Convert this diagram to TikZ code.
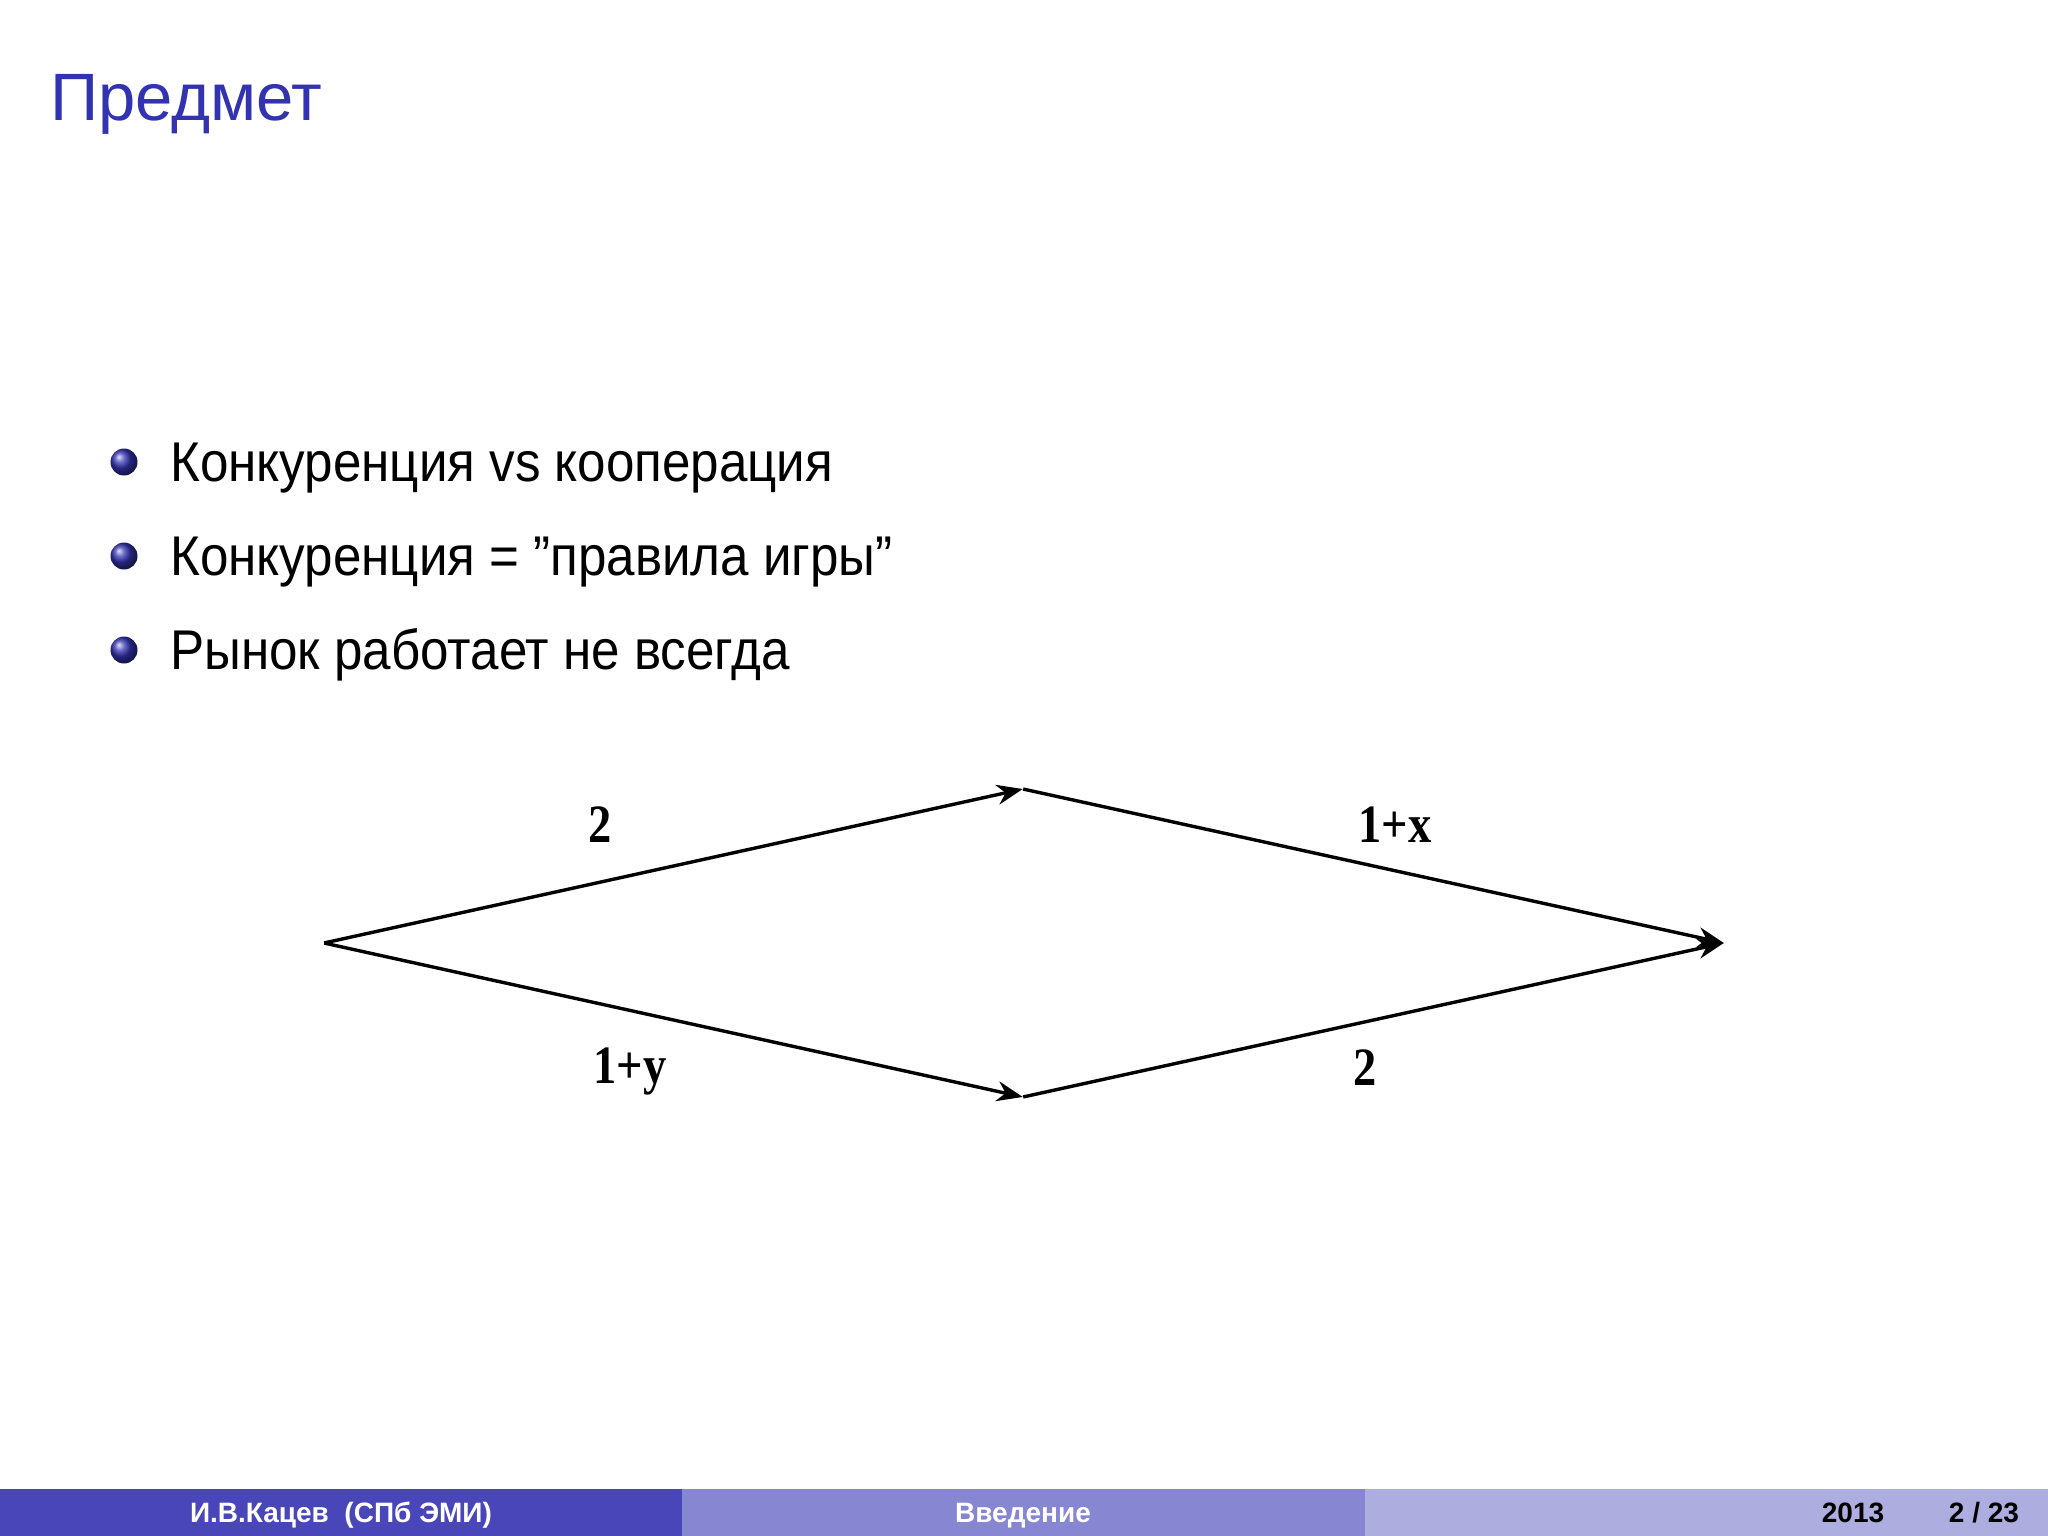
\documentclass[tikz,border=0pt]{standalone}
\usepackage{fontspec}
\setmainfont{Liberation Sans}
\newfontfamily\edgefont[FakeStretch=0.86]{Liberation Serif}
\newfontfamily\itemfont[FakeStretch=0.913]{Liberation Sans}
\usepackage{tikz}
\usetikzlibrary{arrows,arrows.meta,positioning,calc}
\definecolor{structure}{RGB}{51,51,178}
\definecolor{footA}{RGB}{72,70,184}
\definecolor{footB}{RGB}{134,134,210}
\definecolor{footC}{RGB}{173,173,224}
\tikzstyle{vertex} = [inner sep=0pt,minimum size=0pt]
\tikzstyle{flow} = [line width=3.4pt,arrows={-Stealth[length=26pt,width=20pt]}]
\tikzstyle{edgelabel} = [inner sep=0pt,font=\edgefont\bfseries\fontsize{54}{54}\selectfont]
\tikzstyle{bulletball} = [circle,shade,ball color=structure,minimum size=27pt,inner sep=0pt]
\tikzstyle{itemtext} = [anchor=base west,inner sep=0pt,font=\itemfont\fontsize{56}{66}\selectfont]
\tikzstyle{foottext} = [anchor=base,inner sep=0pt,font=\bfseries\fontsize{28}{28}\selectfont]

\begin{document}
\begin{tikzpicture}[x=1pt,y=-1pt]
      \useasboundingbox[fill=white] (0,0) rectangle (2048,1536);

      % title
      \node (title)[anchor=base west,inner sep=0pt,text=structure,font=\fontsize{67}{67}\selectfont] at (50,121) {Предмет};

      % items
      \node (b1)[bulletball] at (124,462) {};
      \node (b2)[bulletball] at (124,556) {};
      \node (b3)[bulletball] at (124,650) {};
      \node (t1)[itemtext] at (170,481) {Конкуренция vs кооперация};
      \node (t2)[itemtext] at (170,575) {Конкуренция = ”правила игры”};
      \node (t3)[itemtext] at (170,669) {Рынок работает не всегда};

      % network
      \node (s)[vertex] at (324,943) {};
      \node (u)[vertex] at (1023,789) {};
      \node (d)[vertex] at (1023,1097) {};
      \node (t)[vertex] at (1724,943) {};

      \draw[flow] (s) -- (u) ;
      \draw[flow] (s) -- (d) ;
      \draw[flow] (u) -- (t) ;
      \draw[flow] (d) -- (t) ;

      \node (w1)[edgelabel] at (600,825) {2};
      \node (w2)[edgelabel] at (1395,825) {1+x};
      \node (w3)[edgelabel] at (630,1071) {1+y};
      \node (w4)[edgelabel] at (1365,1068) {2};

      % footline
      \fill[footA] (0,1489) rectangle (682,1536);
      \fill[footB] (682,1489) rectangle (1365,1536);
      \fill[footC] (1365,1489) rectangle (2048,1536);
      \node (author)[foottext,text=white] at (341,1522) {И.В.Кацев\ \ (СПб ЭМИ)};
      \node (section)[foottext,text=white] at (1023,1522) {Введение};
      \node (year)[foottext] at (1853,1522) {2013};
      \node (page)[foottext] at (1984,1522) {2 / 23};
\end{tikzpicture}
\end{document}
